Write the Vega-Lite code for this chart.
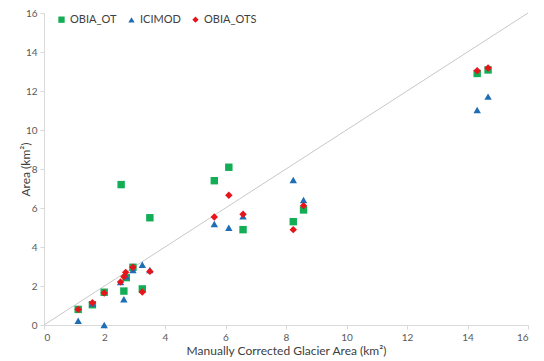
{
  "$schema": "https://vega.github.io/schema/vega-lite/v6.json",
  "width": 484,
  "height": 312,
  "autosize": {"type": "none"},
  "padding": {"left": 44, "top": 13, "right": 16, "bottom": 36},
  "background": "white",
  "config": {
    "view": {"stroke": null},
    "font": "Lato",
    "axis": {
      "grid": false,
      "domainColor": "#D9D9D9",
      "tickColor": "#D9D9D9",
      "tickSize": 4,
      "labelColor": "#595959",
      "labelFontSize": 10,
      "labelFont": "Lato",
      "labelOverlap": false,
      "titleFont": "Lato",
      "titleColor": "#404040",
      "titleFontSize": 12,
      "titleFontWeight": "normal"
    }
  },
  "datasets": {
    "glaciers": [
      {"series": "OBIA_OT", "manual": 1.13, "area": 0.80},
      {"series": "OBIA_OT", "manual": 1.60, "area": 1.04},
      {"series": "OBIA_OT", "manual": 1.99, "area": 1.68},
      {"series": "OBIA_OT", "manual": 2.55, "area": 7.20},
      {"series": "OBIA_OT", "manual": 2.64, "area": 1.74},
      {"series": "OBIA_OT", "manual": 2.72, "area": 2.43},
      {"series": "OBIA_OT", "manual": 2.94, "area": 2.96},
      {"series": "OBIA_OT", "manual": 3.25, "area": 1.85},
      {"series": "OBIA_OT", "manual": 3.50, "area": 5.50},
      {"series": "OBIA_OT", "manual": 5.63, "area": 7.40},
      {"series": "OBIA_OT", "manual": 6.11, "area": 8.09},
      {"series": "OBIA_OT", "manual": 6.58, "area": 4.89},
      {"series": "OBIA_OT", "manual": 8.24, "area": 5.30},
      {"series": "OBIA_OT", "manual": 8.58, "area": 5.90},
      {"series": "OBIA_OT", "manual": 14.32, "area": 12.90},
      {"series": "OBIA_OT", "manual": 14.68, "area": 13.08},
      {"series": "ICIMOD", "manual": 1.13, "area": 0.22},
      {"series": "ICIMOD", "manual": 1.60, "area": 1.10},
      {"series": "ICIMOD", "manual": 1.99, "area": 0.00},
      {"series": "ICIMOD", "manual": 2.53, "area": 2.20},
      {"series": "ICIMOD", "manual": 2.64, "area": 1.32},
      {"series": "ICIMOD", "manual": 2.72, "area": 2.50},
      {"series": "ICIMOD", "manual": 2.94, "area": 2.82},
      {"series": "ICIMOD", "manual": 3.25, "area": 3.09},
      {"series": "ICIMOD", "manual": 3.50, "area": 2.82},
      {"series": "ICIMOD", "manual": 5.63, "area": 5.18},
      {"series": "ICIMOD", "manual": 6.11, "area": 4.99},
      {"series": "ICIMOD", "manual": 6.58, "area": 5.57},
      {"series": "ICIMOD", "manual": 8.24, "area": 7.44},
      {"series": "ICIMOD", "manual": 8.58, "area": 6.41},
      {"series": "ICIMOD", "manual": 14.32, "area": 11.03},
      {"series": "ICIMOD", "manual": 14.68, "area": 11.71},
      {"series": "OBIA_OTS", "manual": 1.13, "area": 0.80},
      {"series": "OBIA_OTS", "manual": 1.60, "area": 1.14},
      {"series": "OBIA_OTS", "manual": 1.99, "area": 1.64},
      {"series": "OBIA_OTS", "manual": 2.53, "area": 2.21},
      {"series": "OBIA_OTS", "manual": 2.64, "area": 2.48},
      {"series": "OBIA_OTS", "manual": 2.70, "area": 2.70},
      {"series": "OBIA_OTS", "manual": 2.94, "area": 2.96},
      {"series": "OBIA_OTS", "manual": 3.25, "area": 1.69},
      {"series": "OBIA_OTS", "manual": 3.50, "area": 2.75},
      {"series": "OBIA_OTS", "manual": 5.63, "area": 5.54},
      {"series": "OBIA_OTS", "manual": 6.11, "area": 6.65},
      {"series": "OBIA_OTS", "manual": 6.58, "area": 5.68},
      {"series": "OBIA_OTS", "manual": 8.24, "area": 4.89},
      {"series": "OBIA_OTS", "manual": 8.58, "area": 6.12},
      {"series": "OBIA_OTS", "manual": 14.32, "area": 13.04},
      {"series": "OBIA_OTS", "manual": 14.68, "area": 13.18}
    ],
    "oneToOne": [
      {"manual": 0, "area": 0, "manual_end": 16, "area_end": 16}
    ]
  },
  "encoding": {
    "x": {
      "field": "manual",
      "type": "quantitative",
      "scale": {"domain": [0, 16], "nice": false},
      "axis": {"values": [0, 2, 4, 6, 8, 10, 12, 14, 16], "title": "Manually Corrected Glacier Area (km²)", "titlePadding": 3, "labelPadding": 3}
    },
    "y": {
      "field": "area",
      "type": "quantitative",
      "scale": {"domain": [0, 16], "nice": false},
      "axis": {"values": [0, 2, 4, 6, 8, 10, 12, 14, 16], "title": "Area (km²)", "titleX": -19, "titleBaseline": "middle", "labelPadding": 3}
    }
  },
  "layer": [
    {
      "data": {"name": "oneToOne"},
      "mark": {"type": "rule", "color": "#C8C8C8", "strokeWidth": 1},
      "encoding": {
        "x2": {"field": "manual_end"},
        "y2": {"field": "area_end"}
      }
    },
    {
      "data": {"name": "glaciers"},
      "mark": {"type": "point", "filled": true, "opacity": 1, "size": 55},
      "encoding": {
        "color": {
          "field": "series",
          "type": "nominal",
          "scale": {"domain": ["OBIA_OT", "ICIMOD", "OBIA_OTS"], "range": ["#13AD55", "#1E6DB5", "#E8141B"]},
          "legend": {
            "title": null,
            "orient": "none",
            "legendX": 12,
            "legendY": 1,
            "direction": "horizontal",
            "labelFont": "Lato",
            "labelFontSize": 11,
            "labelColor": "#404040",
            "symbolSize": 40,
            "symbolOpacity": 1,
            "columnPadding": 8,
            "labelOffset": 3
          }
        },
        "shape": {
          "field": "series",
          "type": "nominal",
          "scale": {"domain": ["OBIA_OT", "ICIMOD", "OBIA_OTS"], "range": ["square", "triangle-up", "diamond"]}
        }
      }
    }
  ]
}
